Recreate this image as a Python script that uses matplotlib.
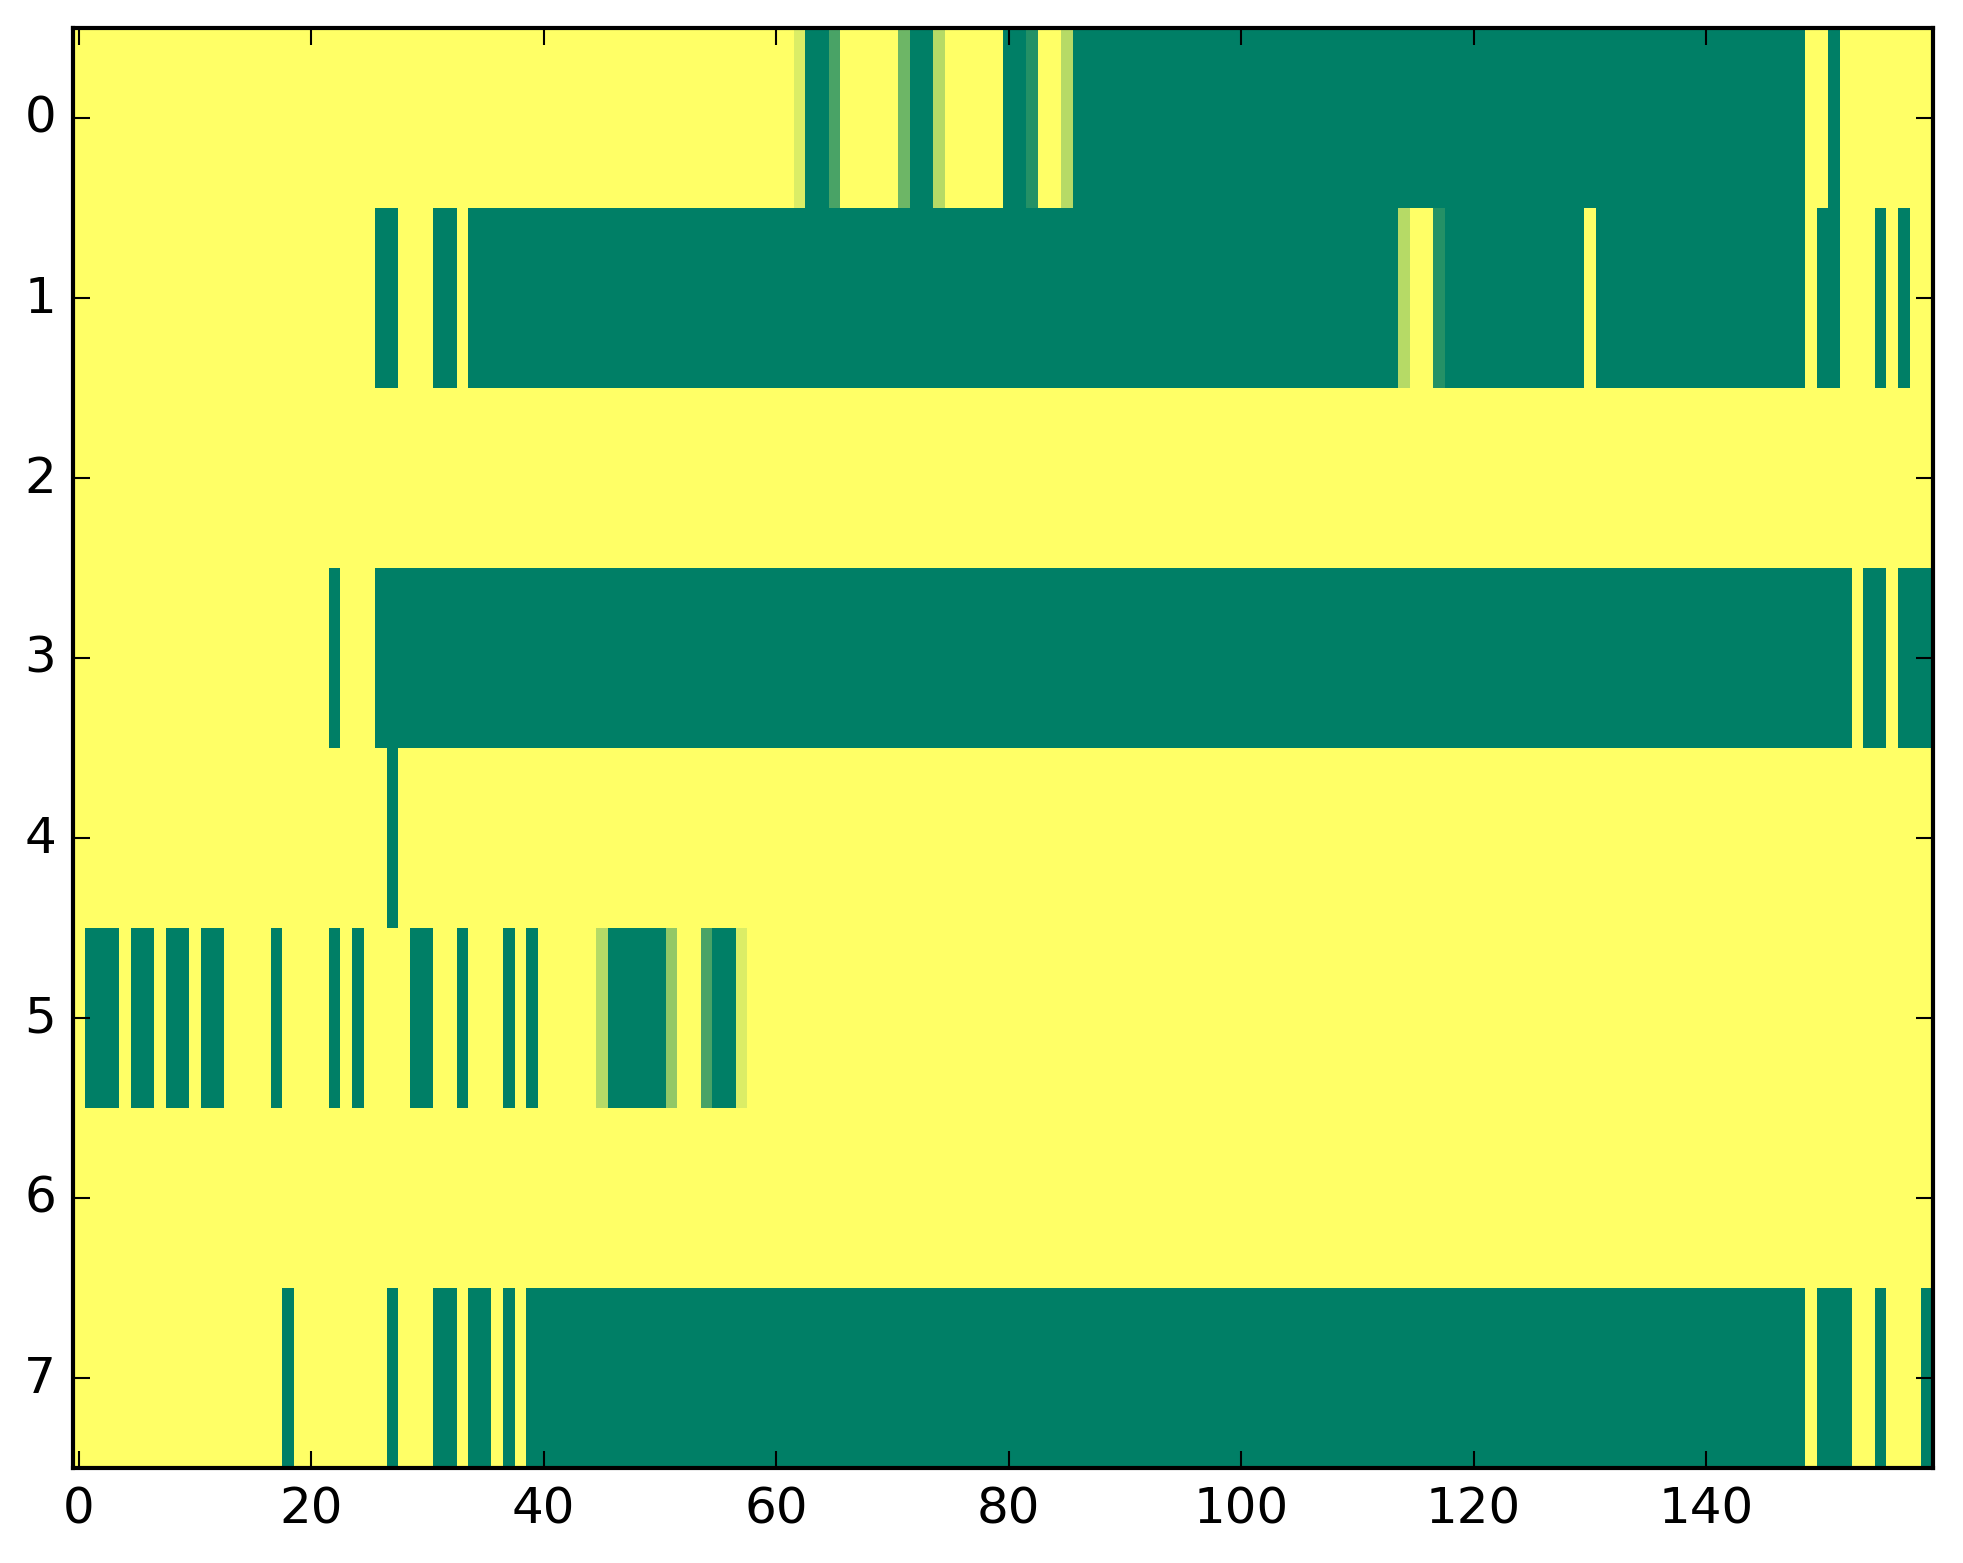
import matplotlib
matplotlib.use('Agg')
import matplotlib.pyplot as plt
import numpy as np

plt.style.use('classic')

# Cell values in sevenths: 0 = green (low), 7 = yellow (high), 160 columns per row
row0 = ["77777777777777777777", "77777777777777777777", "77777777777777777777", "77600277777300577777",
        "00177500000000000000", "00000000000000000000", "00000000000000000000", "00000000077077777777"]
row1 = ["77777777777777777777", "77777700777007000000", "00000000000000000000", "00000000000000000000",
        "00000000000000000000", "00000000000000577100", "00000000007000000000", "00000000070077707077"]
row2 = ["77777777777777777777", "77777777777777777777", "77777777777777777777", "77777777777777777777",
        "77777777777777777777", "77777777777777777777", "77777777777777777777", "77777777777777777777"]
row3 = ["77777777777777777777", "77077700000000000000", "00000000000000000000", "00000000000000000000",
        "00000000000000000000", "00000000000000000000", "00000000000000000000", "00000000000007007000"]
row4 = ["77777777777777777777", "77777770777777777777", "77777777777777777777", "77777777777777777777",
        "77777777777777777777", "77777777777777777777", "77777777777777777777", "77777777777777777777"]
row5 = ["70007007007007777077", "77070777700770777070", "77777500000477200677", "77777777777777777777",
        "77777777777777777777", "77777777777777777777", "77777777777777777777", "77777777777777777777"]
row6 = ["77777777777777777777", "77777777777777777777", "77777777777777777777", "77777777777777777777",
        "77777777777777777777", "77777777777777777777", "77777777777777777777", "77777777777777777777"]
row7 = ["77777777777777777707", "77777770777007007070", "00000000000000000000", "00000000000000000000",
        "00000000000000000000", "00000000000000000000", "00000000000000000000", "00000000070007707770"]

rows = [row0, row1, row2, row3, row4, row5, row6, row7]
data = np.array([[int(ch) / 7.0 for ch in "".join(r)] for r in rows])

W, H = 1963, 1564
fig = plt.figure(figsize=(W / 300, H / 300), dpi=300)
# axes box in pixels: left 72.7, top 28.7, 1860 x 1440
ax = fig.add_axes([72.7 / W, (H - 1468.7) / H, 1860 / W, 1440 / H])

ax.imshow(data, cmap='summer', aspect='auto', interpolation='nearest', vmin=0, vmax=1)
ax.set_xticks(range(0, 160, 20))
ax.set_yticks(range(8))
ax.set_xlim(-0.5, 159.5)
ax.set_ylim(7.5, -0.5)

fig.savefig('out.png', dpi=300)
